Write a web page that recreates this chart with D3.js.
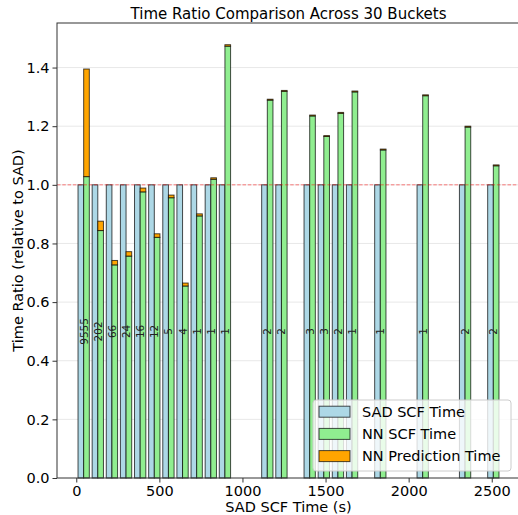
<!DOCTYPE html>
<html>
<head>
<meta charset="utf-8">
<script src="https://cdn.jsdelivr.net/npm/d3@7"></script>
<style>
  html, body { margin: 0; padding: 0; background: #fff; }
  svg { display: block; font-family: "DejaVu Sans", sans-serif; }
</style>
</head>
<body>
<svg id="chart" width="518" height="515"></svg>
<script>
// ---- data ----
const bucketCenters = [44.5, 129.5, 214.5, 299.5, 384.5, 469.5, 554.5, 639.5, 724.5, 809.5, 894.5,
  1149.5, 1234.5, 1404.5, 1489.5, 1574.5, 1659.5, 1829.5, 2084.5, 2339.5, 2509.5];
const counts = [9555, 202, 66, 24, 16, 12, 5, 4, 1, 1, 1, 2, 2, 3, 3, 2, 1, 1, 1, 2, 2];
const sadRatio = [1, 1, 1, 1, 1, 1, 1, 1, 1, 1, 1, 1, 1, 1, 1, 1, 1, 1, 1, 1, 1];
const nnScfRatio = [1.028, 0.844, 0.727, 0.757, 0.976, 0.821, 0.956, 0.655, 0.894, 1.019, 1.473,
  1.289, 1.319, 1.235, 1.165, 1.244, 1.317, 1.119, 1.304, 1.197, 1.065];
const nnPredRatio = [0.367, 0.032, 0.015, 0.015, 0.013, 0.012, 0.009, 0.010, 0.007, 0.005, 0.005,
  0.003, 0.003, 0.003, 0.003, 0.003, 0.003, 0.003, 0.003, 0.003, 0.003];
const barWidth = 34;
const xTicks = [0, 500, 1000, 1500, 2000, 2500];
const yTicks = [0.0, 0.2, 0.4, 0.6, 0.8, 1.0, 1.2, 1.4];
const legendItems = ["SAD SCF Time", "NN SCF Time", "NN Prediction Time"];
const colors = { sad: "#add8e6", nn: "#90ee90", pred: "#ffa500" };

// ---- layout ----
const L = 57, R = 520, T = 23, B = 478;
const svg = d3.select("#chart");
const x = d3.scaleLinear().domain([-116, 2670]).range([L, R]);
const y = d3.scaleLinear().domain([0, 1.552]).range([B, T]);

// grid
svg.append("g").selectAll("line").data(yTicks.filter(d => d > 0)).join("line")
  .attr("x1", L).attr("x2", R)
  .attr("y1", d => y(d)).attr("y2", d => y(d))
  .attr("stroke", "#e8e8e8").attr("stroke-width", 1);

const data = bucketCenters.map((c, i) => ({
  c, n: counts[i], sad: sadRatio[i], nn: nnScfRatio[i], pred: nnPredRatio[i]
}));

const bars = svg.append("g");
// SAD bars
bars.selectAll(".sad").data(data).join("rect")
  .attr("x", d => x(d.c - barWidth))
  .attr("width", d => x(d.c) - x(d.c - barWidth))
  .attr("y", d => y(d.sad))
  .attr("height", d => y(0) - y(d.sad))
  .attr("fill", colors.sad).attr("stroke", "#000").attr("stroke-opacity", 0.7).attr("stroke-width", 1);
// NN SCF bars
bars.selectAll(".nn").data(data).join("rect")
  .attr("x", d => x(d.c))
  .attr("width", d => x(d.c + barWidth) - x(d.c))
  .attr("y", d => y(d.nn))
  .attr("height", d => y(0) - y(d.nn))
  .attr("fill", colors.nn).attr("stroke", "#000").attr("stroke-opacity", 0.7).attr("stroke-width", 1);
// NN prediction bars
bars.selectAll(".pred").data(data).join("rect")
  .attr("x", d => x(d.c))
  .attr("width", d => x(d.c + barWidth) - x(d.c))
  .attr("y", d => y(d.nn + d.pred))
  .attr("height", d => y(d.nn) - y(d.nn + d.pred))
  .attr("fill", colors.pred).attr("stroke", "#000").attr("stroke-opacity", 0.7).attr("stroke-width", 1);

// count labels
svg.append("g").selectAll("text").data(data).join("text")
  .attr("transform", d => `translate(${x(d.c)},${y(0.5)}) rotate(-90)`)
  .attr("text-anchor", "middle").attr("dominant-baseline", "central")
  .attr("font-size", "10.5px").attr("fill", "#222")
  .text(d => d.n);

// reference line
svg.append("line")
  .attr("x1", L).attr("x2", R).attr("y1", y(1)).attr("y2", y(1))
  .attr("stroke", "#ff0000").attr("stroke-opacity", 0.5).attr("stroke-width", 1)
  .attr("stroke-dasharray", "3.5,1.8");

// axes
const xAxis = svg.append("g").attr("transform", `translate(0,${B})`)
  .call(d3.axisBottom(x).tickValues(xTicks).tickFormat(d3.format("d")).tickSize(4.5).tickPadding(3));
const yAxis = svg.append("g").attr("transform", `translate(${L},0)`)
  .call(d3.axisLeft(y).tickValues(yTicks).tickFormat(d3.format(".1f")).tickSize(4.5).tickPadding(3));
[xAxis, yAxis].forEach(g => {
  g.select(".domain").remove();
  g.selectAll("text").attr("font-size", "14.5px").attr("fill", "#000").attr("font-family", "DejaVu Sans");
  g.selectAll("line").attr("stroke", "#333");
});

// frame
svg.append("rect").attr("x", L).attr("y", T).attr("width", R - L).attr("height", B - T)
  .attr("fill", "none").attr("stroke", "#333").attr("stroke-width", 1);

// title and labels
svg.append("text").attr("x", (L + R) / 2).attr("y", 19).attr("text-anchor", "middle")
  .attr("font-size", "15px").attr("fill", "#000").text("Time Ratio Comparison Across 30 Buckets");
svg.append("text").attr("x", (L + R) / 2).attr("y", 512).attr("text-anchor", "middle")
  .attr("font-size", "14.5px").attr("fill", "#000").text("SAD SCF Time (s)");
svg.append("text").attr("transform", `translate(23,${(T + B) / 2}) rotate(-90)`).attr("text-anchor", "middle")
  .attr("font-size", "14.5px").attr("fill", "#000").text("Time Ratio (relative to SAD)");

// legend
const lg = svg.append("g");
lg.append("rect").attr("x", 313).attr("y", 400).attr("width", 198).attr("height", 71).attr("rx", 3)
  .attr("fill", "#fff").attr("fill-opacity", 0.8).attr("stroke", "#ccc").attr("stroke-width", 1);
const legColors = [colors.sad, colors.nn, colors.pred];
legendItems.forEach((t, i) => {
  const cy = 411.7 + i * 22.2;
  lg.append("rect").attr("x", 319).attr("y", cy - 5.5).attr("width", 31).attr("height", 11)
    .attr("fill", legColors[i]).attr("stroke", "#000").attr("stroke-opacity", 0.7).attr("stroke-width", 1);
  lg.append("text").attr("x", 362).attr("y", cy).attr("dominant-baseline", "central")
    .attr("font-size", "14.5px").attr("fill", "#000").text(t);
});
</script>
</body>
</html>
